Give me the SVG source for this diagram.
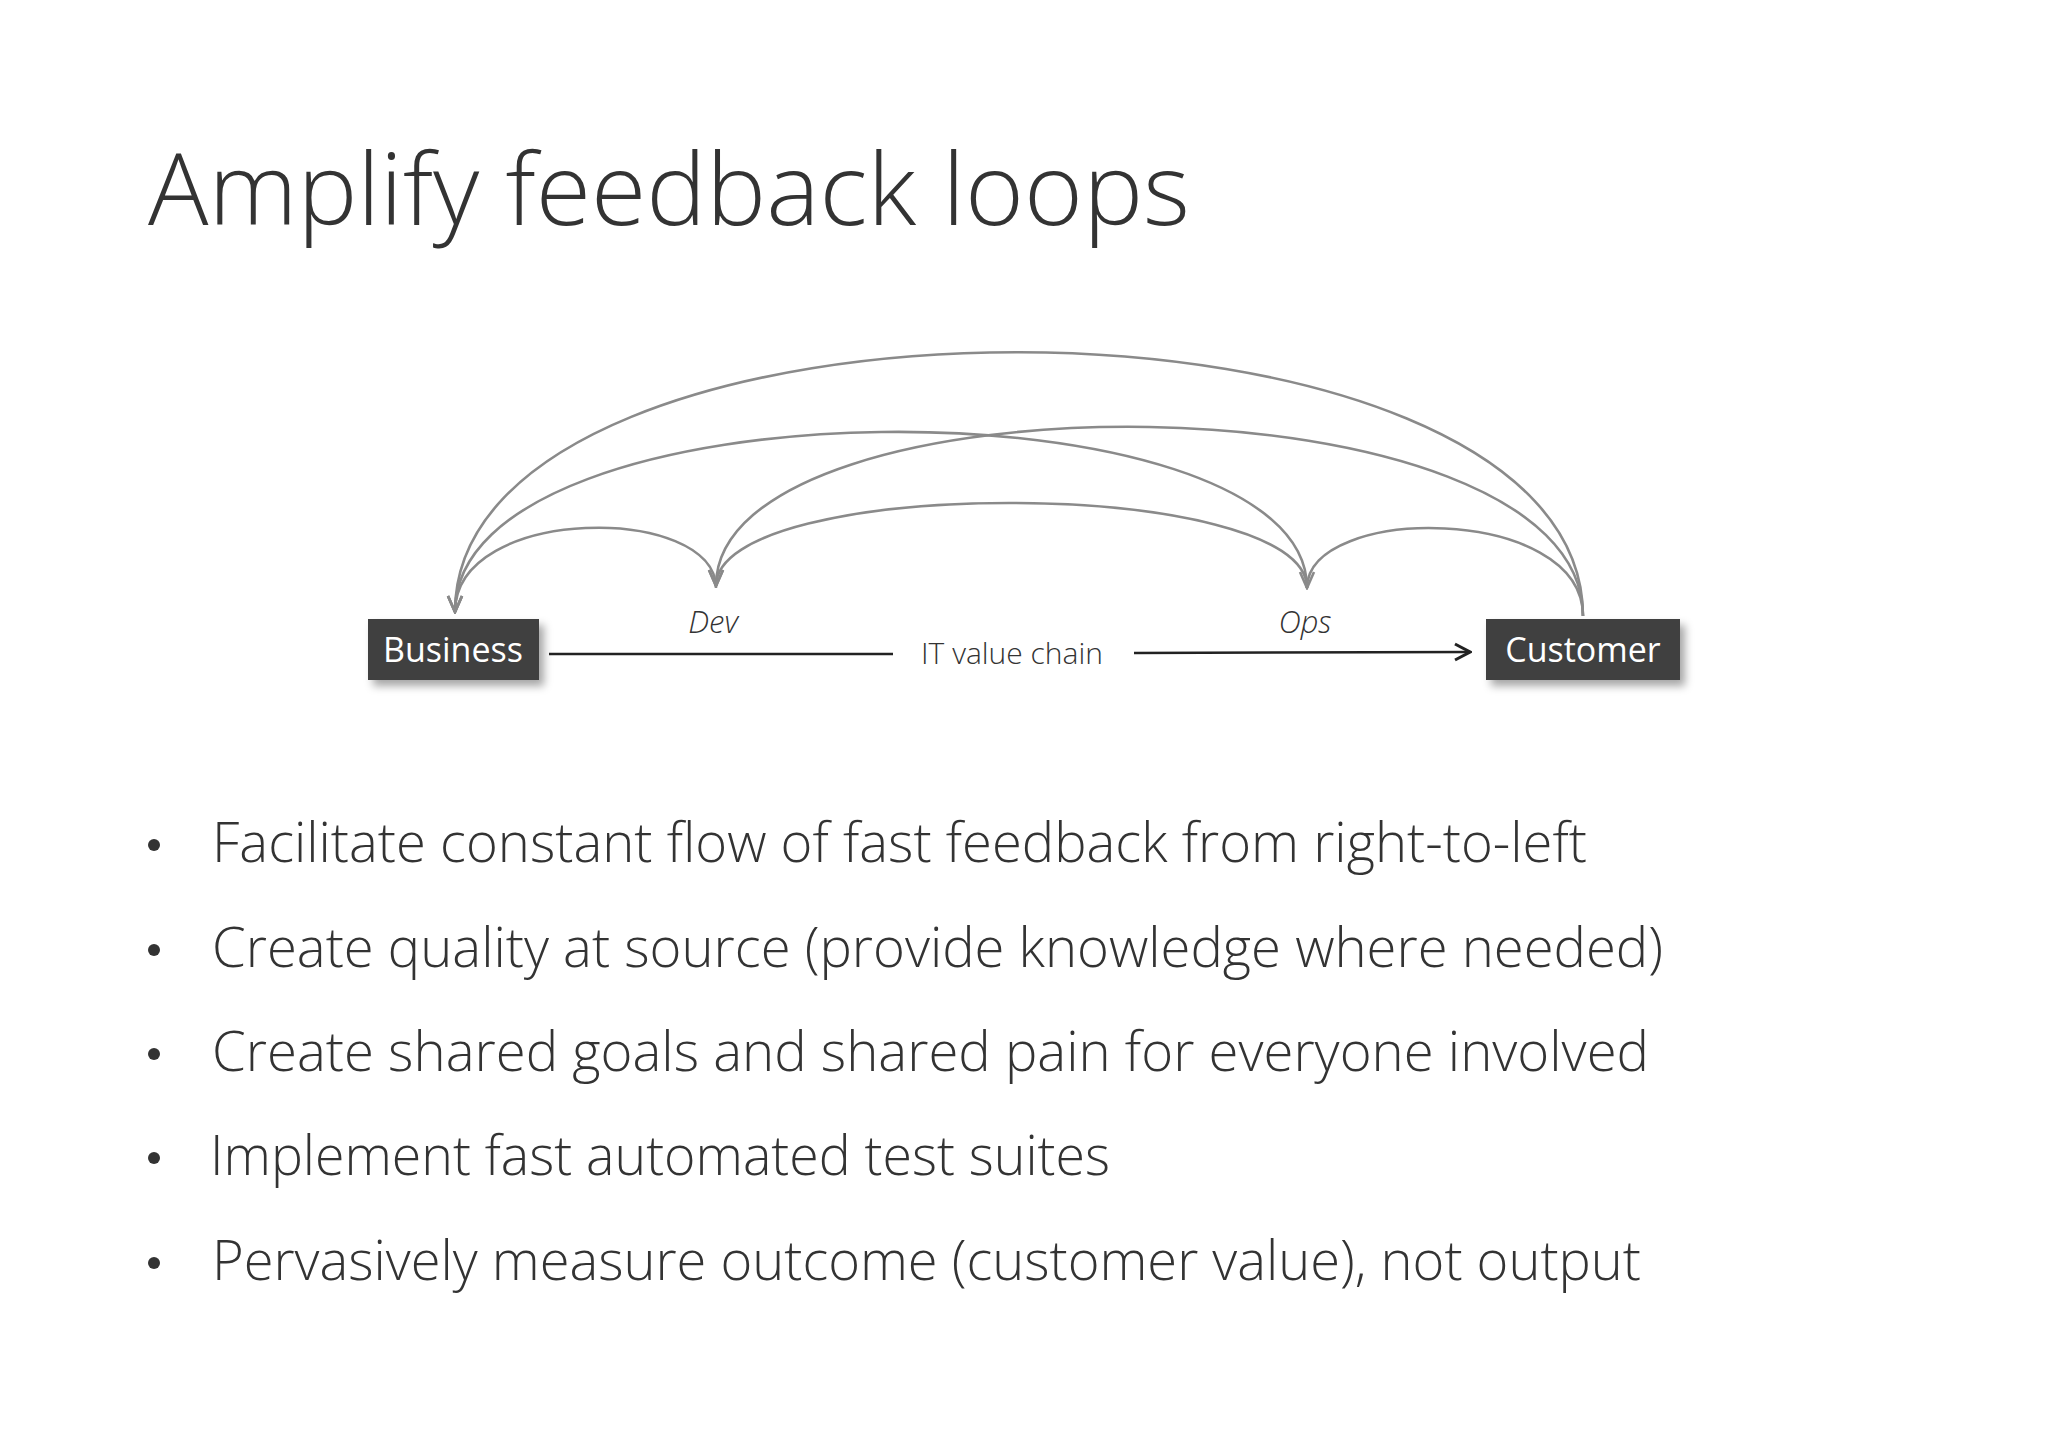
<svg xmlns="http://www.w3.org/2000/svg" width="2048" height="1449" viewBox="0 0 2048 1449">
<style>
.t{font-family:"Open Sans","Liberation Sans",sans-serif;font-weight:300;fill:#333}
.arc{fill:none;stroke:#8a8a8a;stroke-width:2.6}
.box{fill:#3f3f3f}
.bl{font-family:"Open Sans","Liberation Sans",sans-serif;font-weight:400;fill:#fff;font-size:34px}
</style>
<defs>
<marker id="v" viewBox="0 0 20 20" refX="18" refY="10" markerWidth="20" markerHeight="20" markerUnits="userSpaceOnUse" orient="auto">
<path d="M2,3 L18,10 L2,17" fill="none" stroke="#8a8a8a" stroke-width="2.6"/>
</marker>
<marker id="k" viewBox="0 0 20 20" refX="18" refY="10" markerWidth="20" markerHeight="20" markerUnits="userSpaceOnUse" orient="auto">
<path d="M3,2 L18,10 L3,18" fill="none" stroke="#222" stroke-width="3"/>
</marker>
<filter id="sh" x="-20%" y="-20%" width="150%" height="160%"><feDropShadow dx="5" dy="6" stdDeviation="4" flood-color="#000" flood-opacity="0.35"/></filter>
</defs>
<rect width="2048" height="1449" fill="#fff"/>
<text class="t" x="148" y="225" font-size="100" textLength="1042" lengthAdjust="spacingAndGlyphs">Amplify feedback loops</text>
<g id="connectors">
<path class="arc" d="M1583,616 C1583,265 455,265 455,612" marker-end="url(#v)"/>
<path class="arc" d="M1307,588 C1307,376 455,376 455,612" marker-end="url(#v)"/>
<path class="arc" d="M1583,616 C1583,369 716,369 716,586" marker-end="url(#v)"/>
<path class="arc" d="M716,588 C716,504 455,504 455,612" marker-end="url(#v)"/>
<path class="arc" d="M1307,588 C1307,475 716,475 716,586" marker-end="url(#v)"/>
<path class="arc" d="M1583,616 C1583,504 1307,504 1307,588" marker-end="url(#v)"/>
<line x1="549" y1="654" x2="893" y2="654" stroke="#222" stroke-width="2.5"/>
<line x1="1134" y1="653" x2="1470" y2="652" stroke="#222" stroke-width="2.5" marker-end="url(#k)"/>
<text class="t" x="1012" y="664" font-size="30" font-weight="400" text-anchor="middle">IT value chain</text>
</g>
<g id="business"><rect class="box" x="368" y="619" width="171" height="61" filter="url(#sh)"/><text class="bl" x="453" y="662" text-anchor="middle">Business</text></g>
<g id="customer"><rect class="box" x="1486" y="619" width="194" height="61" filter="url(#sh)"/><text class="bl" x="1583" y="662" text-anchor="middle">Customer</text></g>
<g id="dev"><text class="t" x="713" y="633" font-size="31" font-style="italic" font-weight="400" text-anchor="middle">Dev</text></g>
<g id="ops"><text class="t" x="1305" y="633" font-size="31" font-style="italic" font-weight="400" text-anchor="middle">Ops</text></g>
<g class="t" font-size="56">
<circle cx="154" cy="845" r="6" fill="#333"/><text x="212" y="862" textLength="1375" lengthAdjust="spacingAndGlyphs">Facilitate constant flow of fast feedback from right-to-left</text>
<circle cx="154" cy="950" r="6" fill="#333"/><text x="212" y="967" textLength="1451" lengthAdjust="spacingAndGlyphs">Create quality at source (provide knowledge where needed)</text>
<circle cx="154" cy="1054" r="6" fill="#333"/><text x="212" y="1071" textLength="1437" lengthAdjust="spacingAndGlyphs">Create shared goals and shared pain for everyone involved</text>
<circle cx="154" cy="1158" r="6" fill="#333"/><text x="210" y="1175" textLength="900" lengthAdjust="spacingAndGlyphs">Implement fast automated test suites</text>
<circle cx="154" cy="1263" r="6" fill="#333"/><text x="212" y="1280" textLength="1429" lengthAdjust="spacingAndGlyphs">Pervasively measure outcome (customer value), not output</text>
</g>
</svg>
